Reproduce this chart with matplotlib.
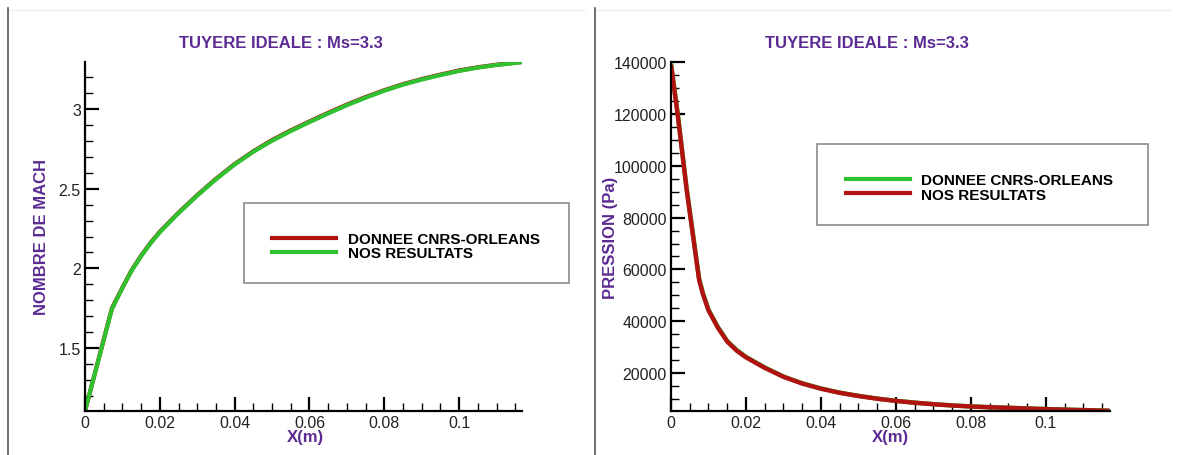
import matplotlib
matplotlib.use("Agg")
import matplotlib.pyplot as plt
from matplotlib.lines import Line2D
from matplotlib.patches import Rectangle
from matplotlib.ticker import MultipleLocator, FormatStrFormatter, FuncFormatter

# ---------------- data ----------------
x_mach_ref = [0.0, 0.0072, 0.010, 0.0125, 0.015, 0.0175, 0.020, 0.025, 0.030, 0.035,
              0.040, 0.045, 0.050, 0.055, 0.060, 0.065, 0.070, 0.075, 0.080, 0.085,
              0.090, 0.095, 0.100, 0.105, 0.110, 0.1168]
mach_ref = [1.105, 1.75, 1.88, 1.99, 2.08, 2.16, 2.23, 2.35, 2.46, 2.562,
            2.655, 2.735, 2.805, 2.866, 2.922, 2.976, 3.028, 3.075, 3.118, 3.156,
            3.188, 3.216, 3.242, 3.262, 3.278, 3.295]

x_mach_ours = [0.0, 0.0072, 0.010, 0.0125, 0.015, 0.0175, 0.020, 0.025, 0.030, 0.035,
               0.040, 0.045, 0.050, 0.055, 0.060, 0.065, 0.070, 0.075, 0.080, 0.085,
               0.090, 0.095, 0.100, 0.105, 0.110, 0.1168]
mach_ours = [1.105, 1.745, 1.877, 1.987, 2.077, 2.157, 2.227, 2.347, 2.457, 2.559,
             2.652, 2.732, 2.801, 2.862, 2.918, 2.972, 3.024, 3.071, 3.115, 3.153,
             3.185, 3.213, 3.239, 3.26, 3.276, 3.294]

x_p_ref = [0.0, 0.0018, 0.0042, 0.0075, 0.0085, 0.010, 0.0125, 0.015, 0.0175, 0.020,
           0.025, 0.030, 0.035, 0.040, 0.045, 0.050, 0.055, 0.060, 0.065, 0.070,
           0.075, 0.080, 0.085, 0.090, 0.095, 0.100, 0.105, 0.110, 0.117]
p_ref = [139500, 120000, 91000, 56500, 51000, 44500, 37800, 32400, 28900, 26300,
         22200, 18700, 16100, 14100, 12500, 11250, 10200, 9330, 8630, 8050,
         7560, 7170, 6880, 6640, 6380, 6150, 5940, 5750, 5500]

x_p_ours = [0.0, 0.0018, 0.0042, 0.0075, 0.0085, 0.010, 0.0125, 0.015, 0.0175, 0.020,
            0.025, 0.030, 0.035, 0.040, 0.045, 0.050, 0.055, 0.060, 0.065, 0.070,
            0.075, 0.080, 0.085, 0.090, 0.095, 0.100, 0.105, 0.110, 0.117]
p_ours = [139000, 119500, 90500, 56000, 50600, 44200, 37550, 32200, 28720, 26100,
          22050, 18600, 16000, 14000, 12420, 11180, 10140, 9280, 8590, 8000,
          7520, 7130, 6850, 6620, 6360, 6120, 5920, 5730, 5480]

title_text = "TUYERE IDEALE : Ms=3.3"
label_ref = "DONNEE CNRS-ORLEANS"
label_ours = "NOS RESULTATS"

# ---------------- style ----------------
W, H = 1179, 456
DPI = 100
PURPLE = "#5b2b93"
RED = "#b01212"
GREEN = "#2fc12f"
FONT = "Liberation Sans"

plt.rcParams["font.family"] = [FONT, "DejaVu Sans"]

fig = plt.figure(figsize=(W / DPI, H / DPI), dpi=DPI)
fig.patch.set_facecolor("white")


def fx(px):
    return px / W


def fy(py):
    return 1 - py / H


def make_axes(left, right, top, bottom):
    ax = fig.add_axes([fx(left), fy(bottom), fx(right - left), (bottom - top) / H])
    ax.set_facecolor("none")
    for s in ("top", "right"):
        ax.spines[s].set_visible(False)
    for s in ("left", "bottom"):
        ax.spines[s].set_linewidth(1.6)
        ax.spines[s].set_color("black")
    ax.tick_params(which="both", direction="in", colors="black", labelsize=11.5,
                   labelcolor="#222222")
    ax.tick_params(which="major", length=10, width=1.6, pad=3)
    ax.tick_params(which="minor", length=6, width=1.0)
    ax.xaxis.set_major_locator(MultipleLocator(0.02))
    ax.xaxis.set_minor_locator(MultipleLocator(0.005))
    ax.xaxis.set_major_formatter(FuncFormatter(lambda v, p: f"{v:g}"))
    return ax


def legend_box(handles, labels, box, anchor):
    x0, y0, x1, y1 = box
    fig.add_artist(Rectangle((fx(x0), fy(y1)), fx(x1 - x0), (y1 - y0) / H,
                             transform=fig.transFigure, facecolor="white",
                             edgecolor="#8c8c8c", linewidth=1.2, zorder=5))
    leg = fig.legend(handles, labels, loc="center left",
                     bbox_to_anchor=(fx(anchor[0]), fy(anchor[1])),
                     bbox_transform=fig.transFigure, frameon=False,
                     borderpad=0, borderaxespad=0, handlelength=4.2,
                     handletextpad=0.75, labelspacing=0.02,
                     prop={"family": FONT, "weight": "bold", "size": 11})
    leg.set_zorder(6)
    return leg


# ---------------- left panel : Mach number ----------------
axL = make_axes(85, 522, 63, 412)
axL.plot(x_mach_ref, mach_ref, color=RED, lw=3.0, solid_capstyle="butt")
axL.plot(x_mach_ours, mach_ours, color=GREEN, lw=3.0, solid_capstyle="butt")
axL.set_xlim(0, 0.1168)
axL.set_ylim(1.105, 3.295)
axL.yaxis.set_major_locator(MultipleLocator(0.5))
axL.yaxis.set_minor_locator(MultipleLocator(0.1))
axL.yaxis.set_major_formatter(FuncFormatter(lambda v, p: f"{v:g}"))

legend_box([Line2D([], [], color=RED, lw=3), Line2D([], [], color=GREEN, lw=3)],
           [label_ref, label_ours], (244, 204, 569, 284), (272, 247))

fig.text(fx(281), fy(43), title_text, ha="center", va="center", color=PURPLE,
         fontsize=12, fontweight="bold")
fig.text(fx(42), fy(237), "NOMBRE DE MACH", ha="center", va="center", rotation=90,
         color=PURPLE, fontsize=12, fontweight="bold")
fig.text(fx(305), fy(438), "X(m)", ha="center", va="center", color=PURPLE,
         fontsize=12, fontweight="bold")

# ---------------- right panel : pressure ----------------
axR = make_axes(671, 1109.5, 63, 412)
axR.plot(x_p_ref, p_ref, color=GREEN, lw=3.2, solid_capstyle="butt")
axR.plot(x_p_ours, p_ours, color=RED, lw=3.2, solid_capstyle="butt")
axR.set_xlim(0, 0.117)
axR.set_ylim(5400, 140000)
axR.yaxis.set_major_locator(MultipleLocator(20000))
axR.yaxis.set_minor_locator(MultipleLocator(5000))
axR.yaxis.set_major_formatter(FormatStrFormatter("%d"))

legend_box([Line2D([], [], color=GREEN, lw=3), Line2D([], [], color=RED, lw=3)],
           [label_ref, label_ours], (817, 145, 1147.5, 226), (845.5, 188.5))

fig.text(fx(867), fy(43), title_text, ha="center", va="center", color=PURPLE,
         fontsize=12, fontweight="bold")
fig.text(fx(610), fy(238), "PRESSION (Pa)", ha="center", va="center", rotation=90,
         color=PURPLE, fontsize=12, fontweight="bold")
fig.text(fx(890), fy(438), "X(m)", ha="center", va="center", color=PURPLE,
         fontsize=12, fontweight="bold")

# ---------------- panel frames ----------------
for xpix in (8, 595):
    fig.add_artist(Line2D([fx(xpix), fx(xpix)], [fy(9), fy(456)],
                          transform=fig.transFigure, color="#555555", lw=1.2))
for x0, x1 in ((9, 585), (596, 1170)):
    fig.add_artist(Line2D([fx(x0), fx(x1)], [fy(11), fy(11)],
                          transform=fig.transFigure, color="#ececec", lw=0.8))

fig.savefig("out.png", dpi=DPI, facecolor="white")
